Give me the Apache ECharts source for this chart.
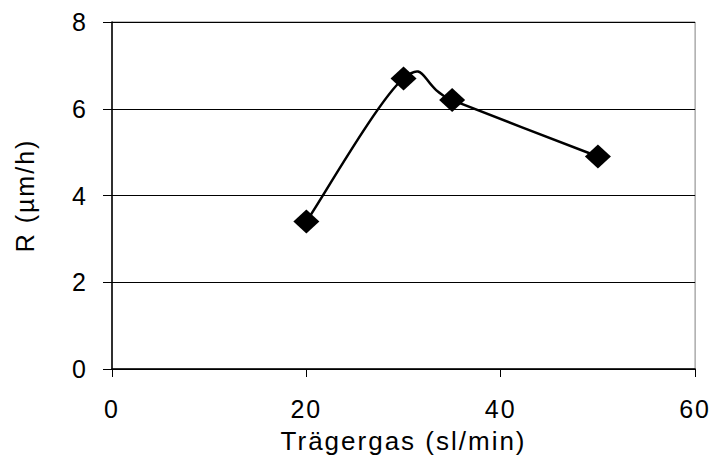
<!DOCTYPE html>
<html>
<head>
<meta charset="utf-8">
<script src="https://cdn.jsdelivr.net/npm/echarts@6/dist/echarts.min.js"></script>
<style>
  html, body { margin: 0; padding: 0; background: #fff; }
  #chart { width: 712px; height: 459px; }
  /* slightly opened-up lettering for all chart text */
  #chart svg text { letter-spacing: 2px; }
</style>
</head>
<body>
<div id="chart"></div>
<script>
// Trägergas flow vs. growth rate
const carrierGas = [20, 30, 35, 50];      // sl/min
const rate = [3.4, 6.7, 6.2, 4.9];        // µm/h
const xTicks = [0, 20, 40, 60];
const yTicks = [0, 2, 4, 6, 8];

const points = carrierGas.map((x, i) => [x, rate[i]]);
const font = 'Liberation Sans, Arial, sans-serif';
const chart = echarts.init(document.getElementById('chart'), null, { renderer: 'svg' });

// Smoothed connector: one cubic segment per data interval, with tangents
// taken from the neighbouring points (Catmull-Rom style, factor 1/6).
function renderSegment(params, api) {
  const i = params.dataIndex;
  if (i >= points.length - 1) return null;
  const P = points.map(p => api.coord(p));
  const p0 = P[Math.max(i - 1, 0)];
  const p1 = P[i];
  const p2 = P[i + 1];
  const p3 = P[Math.min(i + 2, P.length - 1)];
  return {
    type: 'bezierCurve',
    shape: {
      x1: p1[0], y1: p1[1],
      cpx1: p1[0] + (p2[0] - p0[0]) / 6, cpy1: p1[1] + (p2[1] - p0[1]) / 6,
      cpx2: p2[0] - (p3[0] - p1[0]) / 6, cpy2: p2[1] - (p3[1] - p1[1]) / 6,
      x2: p2[0], y2: p2[1]
    },
    style: { stroke: '#000', lineWidth: 2.5, fill: null }
  };
}

chart.setOption({
  animation: false,
  backgroundColor: '#ffffff',
  grid: {
    left: 112, top: 22, right: 15, bottom: 89,
    show: true, borderColor: '#808080', borderWidth: 1
  },
  xAxis: {
    type: 'value',
    min: xTicks[0], max: xTicks[xTicks.length - 1], interval: 20,
    name: 'Trägergas (sl/min)',
    nameLocation: 'middle', nameGap: 59,
    nameTextStyle: { fontFamily: font, fontSize: 26, color: '#000' },
    axisLine: { show: true, onZero: false, lineStyle: { color: '#000', width: 1.5 } },
    axisTick: { show: true, inside: false, length: 8, lineStyle: { color: '#000', width: 1 } },
    axisLabel: { fontFamily: font, fontSize: 25, color: '#000', margin: 27 },
    splitLine: { show: false }
  },
  yAxis: {
    type: 'value',
    min: yTicks[0], max: yTicks[yTicks.length - 1], interval: 2,
    name: 'R (µm/h)',
    nameLocation: 'middle', nameGap: 75, nameRotate: 90,
    nameTextStyle: { fontFamily: font, fontSize: 25, color: '#000' },
    axisLine: { show: true, onZero: false, lineStyle: { color: '#000', width: 1.5 } },
    axisTick: { show: true, inside: false, length: 9, lineStyle: { color: '#000', width: 1 } },
    axisLabel: { fontFamily: font, fontSize: 25, color: '#000', margin: 24 },
    splitLine: { show: true, lineStyle: { color: '#000', width: 1 } }
  },
  series: [{
    type: 'custom',
    coordinateSystem: 'cartesian2d',
    renderItem: renderSegment,
    data: points,
    encode: { x: 0, y: 1 },
    silent: true,
    z: 2
  }, {
    type: 'scatter',
    data: points,
    symbol: 'diamond',
    symbolSize: [26, 24],
    itemStyle: { color: '#000', opacity: 1 },
    z: 3
  }]
});
</script>
</body>
</html>
